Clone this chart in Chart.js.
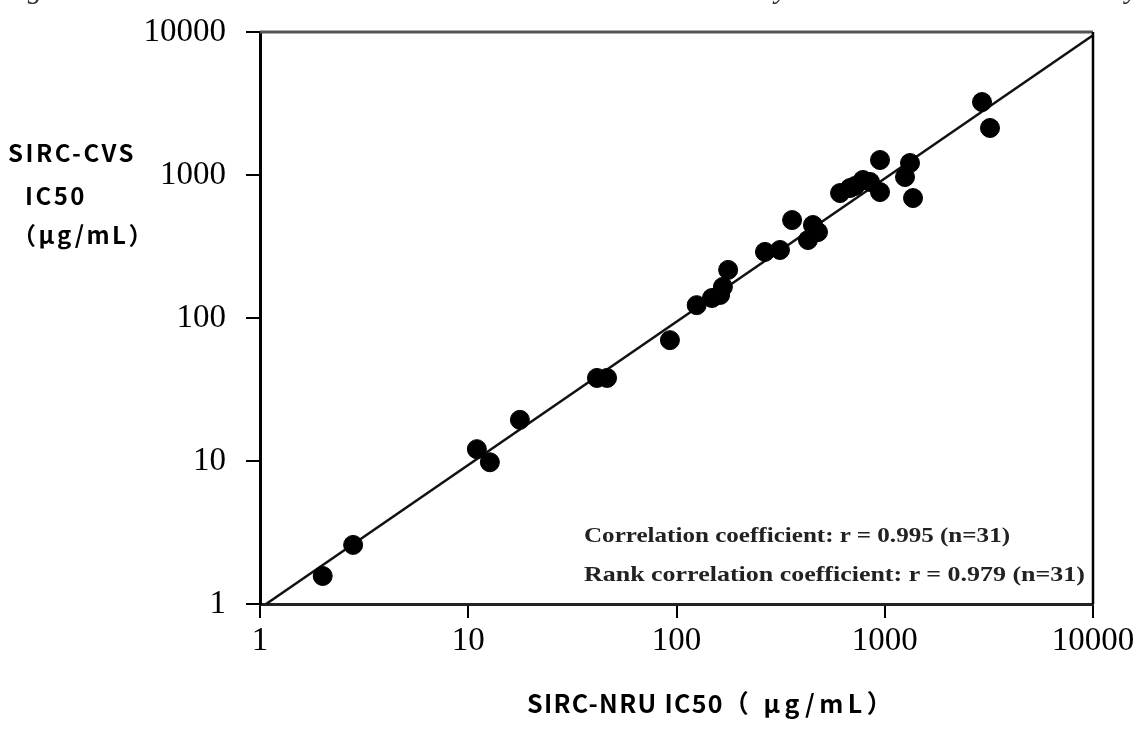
<!DOCTYPE html>
<html>
<head>
<meta charset="utf-8">
<script src="https://cdn.jsdelivr.net/npm/chart.js@4/dist/chart.umd.min.js"></script>
<style>
  html, body { margin: 0; padding: 0; background: #fff; }
  #wrap { position: relative; width: 1145px; height: 742px; overflow: hidden; }
  canvas { position: absolute; left: 0; top: 0; }
  .t { position: absolute; white-space: nowrap; color: #000; }
  .jp { font-family: "Noto Sans CJK JP", "Noto Sans", sans-serif; font-weight: bold; font-size: 24px; letter-spacing: 2.5px; }
  .ann { font-family: "Liberation Serif", "DejaVu Serif", serif; font-weight: bold; font-size: 22px; color: #222; transform-origin: 0 50%; }
  .cap { font-family: "Liberation Serif", serif; font-style: italic; font-size: 29px; color: #333; }
</style>
</head>
<body>
<div id="wrap">
  <canvas id="c" width="1145" height="742"></canvas>
  <div class="t cap" style="left:2px; top:-28px;">Fig. Correlation between IC50 values obtained in SIRC-NRU assay and those in SIRC-CVS assay</div>
  <div class="t jp" style="left:8px; top:134px;">SIRC-CVS</div>
  <div class="t jp" style="left:25px; top:177px;">IC50</div>
  <div class="t jp" style="left:12px; top:216px;">（μg/mL）</div>
  <div class="t jp" style="left:527px; top:684px; font-size:25px;"><span style="letter-spacing:1.3px;">SIRC-NRU IC50</span><span style="letter-spacing:4.5px;">（ μg/mL）</span></div>
  <div class="t ann" style="left:584px; top:522px; transform: scaleX(1.14);">Correlation coefficient: r = 0.995 (n=31)</div>
  <div class="t ann" style="left:584px; top:561px; transform: scaleX(1.18);">Rank correlation coefficient: r = 0.979 (n=31)</div>
</div>
<script>
// SIRC-NRU IC50 (x) and SIRC-CVS IC50 (y), µg/mL
const nruIC50 = [2.0, 2.8, 11.0, 12.7, 17.7, 41.5, 46.4, 93, 125, 148, 167, 177, 162, 266, 314, 359, 428, 452, 478, 610, 681, 720, 786, 949, 949, 1251, 1322, 1367, 2931, 3202, 850];
const cvsIC50 = [1.57, 2.59, 12.1, 9.8, 19.4, 38.1, 38.1, 70, 123, 138, 165, 217, 145, 290, 299, 484, 351, 447, 399, 748, 811, 838, 923, 1273, 760, 968, 1213, 690, 3238, 2132, 894];
// regression line end points
const lineX = [1.07, 10000];
const lineY = [1.0, 9500];
const tickValues = [1, 10, 100, 1000, 10000];
const tickLabels = ["1", "10", "100", "1000", "10000"];

const points = nruIC50.map((x, i) => ({ x: x, y: cvsIC50[i] }));
const linePts = lineX.map((x, i) => ({ x: x, y: lineY[i] }));

const frame = {
  id: 'frame',
  afterDraw(chart) {
    const a = chart.chartArea, ctx = chart.ctx;
    ctx.save();
    ctx.strokeStyle = '#555';
    ctx.lineWidth = 3;
    ctx.beginPath(); ctx.moveTo(a.left, a.top); ctx.lineTo(a.right, a.top); ctx.stroke();
    ctx.strokeStyle = '#000';
    ctx.lineWidth = 2.5;
    ctx.beginPath(); ctx.moveTo(a.right, a.top); ctx.lineTo(a.right, a.bottom); ctx.stroke();
    ctx.restore();
  }
};

const setTicks = (scale) => { scale.ticks = tickValues.map(v => ({ value: v })); };

new Chart(document.getElementById('c'), {
  type: 'scatter',
  data: {
    datasets: [
      { data: linePts, showLine: true, borderColor: '#111', borderWidth: 2.5, pointRadius: 0, order: 2 },
      { data: points, backgroundColor: '#000', borderColor: '#000', pointRadius: 9.5, pointHoverRadius: 9.5, order: 1 }
    ]
  },
  options: {
    responsive: false,
    animation: false,
    events: [],
    layout: { padding: { left: 140, right: 52, top: 32, bottom: 78 } },
    plugins: { legend: { display: false }, tooltip: { enabled: false } },
    scales: {
      x: {
        type: 'logarithmic', min: 1, max: 10000,
        afterBuildTicks: setTicks,
        afterFit: (s) => { s.height = 60; },
        grid: { drawOnChartArea: false, drawTicks: true, tickLength: 14, color: '#000', lineWidth: 2 },
        border: { display: true, color: '#222', width: 3 },
        ticks: { color: '#000', font: { family: '"Liberation Serif", serif', size: 33 }, padding: 4, maxRotation: 0, autoSkip: false,
                 callback: (v) => tickLabels[tickValues.indexOf(v)] }
      },
      y: {
        type: 'logarithmic', min: 1, max: 10000,
        afterBuildTicks: setTicks,
        afterFit: (s) => { s.width = 120; },
        grid: { drawOnChartArea: false, drawTicks: true, tickLength: 14, color: '#000', lineWidth: 2 },
        border: { display: true, color: '#000', width: 3 },
        ticks: { color: '#000', font: { family: '"Liberation Serif", serif', size: 33, lineHeight: 0.5 }, padding: 20, autoSkip: false,
                 callback: (v) => tickLabels[tickValues.indexOf(v)] }
      }
    }
  },
  plugins: [frame]
});
</script>
</body>
</html>
